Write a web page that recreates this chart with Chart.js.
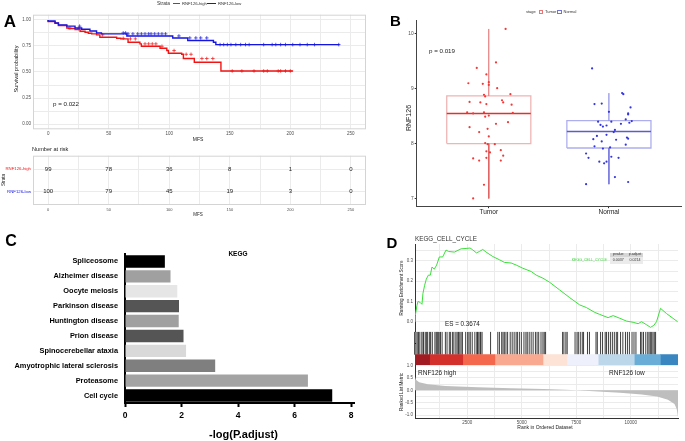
<!DOCTYPE html>
<html>
<head>
<meta charset="utf-8">
<script src="https://cdn.jsdelivr.net/npm/chart.js@4.4.1/dist/chart.umd.min.js"></script>
<style>
html, body { margin: 0; padding: 0; background: #fff; }
#fig { position: relative; width: 685px; height: 441px; overflow: hidden; background: #fff; font-family: "Liberation Sans", Arial, sans-serif; }
#fig canvas { position: absolute; }
.t { position: absolute; white-space: nowrap; line-height: 1; }
.r { position: absolute; }
</style>
</head>
<body>
<div id="fig"></div>
<script>
// ---------- Painel A: curvas de Kaplan-Meier ----------
const highTime = [0, 5.7, 8.5, 15.4, 16.8, 22.2, 26.4, 30.5, 33.2, 36, 40, 42.7, 56.6, 60, 66, 75.8, 77, 92.4, 98, 99.3, 110.3, 111.7, 120.7, 142.7, 149.1, 202.3];
const highSurv = [1, 0.984, 0.968, 0.946, 0.923, 0.917, 0.907, 0.891, 0.881, 0.872, 0.866, 0.856, 0.834, 0.824, 0.818, 0.786, 0.770, 0.747, 0.728, 0.706, 0.68, 0.67, 0.629, 0.594, 0.51, 0.51];
const lowTime = [0, 5.7, 8.5, 15.4, 22.2, 27.7, 34.5, 40, 44, 65, 102.9, 115.3, 136.5, 138.5, 140.6, 240.5];
const lowSurv = [1, 0.99, 0.97, 0.952, 0.94, 0.923, 0.91, 0.894, 0.875, 0.866, 0.846, 0.827, 0.802, 0.785, 0.763, 0.763];
const highCensor = [18, 25, 45, 62, 68, 72, 80, 83, 86, 89, 94, 104, 114, 118, 127, 131, 136, 152, 160, 170, 178, 181, 190, 192, 196, 200];
const lowCensor = [26, 62, 64, 66, 70, 74, 77, 80, 83, 85, 88, 91, 94, 97, 108, 117, 122, 126, 131, 142, 145, 148, 151, 155, 159, 163, 166, 178, 185, 188, 192, 196, 202, 208, 214, 220, 240];

// tabela "Number at risk"
const riskTimes = [0, 50, 100, 150, 200, 250];
const riskHigh = [99, 78, 36, 8, 1, 0];
const riskLow = [100, 79, 45, 19, 3, 0];
const strataNames = ['RNF126-low', 'RNF126-high'];

// ---------- Painel B: boxplot RNF126 ----------
const stageNames = ['Tumor', 'Normal'];
const tumorX = [1.14, 0.90, 1.06, 0.98, 0.83, 0.95, 1.00, 1.00, 1.07, 0.96, 1.18, 0.97, 0.84, 0.93, 1.11, 1.12, 0.98, 1.19, 0.82, 0.87, 0.96, 1.20, 0.97, 1.00, 1.16, 1.06, 0.84, 0.99, 0.92, 1.00, 0.97, 0.99, 1.05, 1.10, 0.98, 1.01, 1.12, 0.87, 0.98, 0.92, 1.10, 0.96, 0.87];
const tumorY = [10.09, 9.38, 9.48, 9.26, 9.10, 9.09, 9.12, 9.07, 9.01, 8.89, 8.90, 8.86, 8.76, 8.75, 8.79, 8.75, 8.72, 8.71, 8.57, 8.55, 8.57, 8.56, 8.49, 8.51, 8.39, 8.36, 8.30, 8.27, 8.21, 8.13, 8.01, 7.99, 7.99, 7.88, 7.86, 7.84, 7.78, 7.73, 7.74, 7.69, 7.69, 7.25, 7.00];
const normalX = [1.86, 2.11, 2.12, 1.88, 1.94, 2.18, 2.00, 2.16, 2.16, 2.14, 1.91, 2.02, 2.19, 2.17, 2.10, 1.93, 1.98, 1.95, 2.05, 2.04, 1.98, 1.90, 2.15, 2.16, 1.87, 1.94, 2.06, 2.14, 1.88, 1.95, 2.01, 1.81, 1.83, 2.02, 2.08, 1.92, 1.98, 1.96, 2.05, 2.16, 1.81];
const normalY = [9.37, 8.92, 8.90, 8.72, 8.73, 8.66, 8.58, 8.55, 8.53, 8.44, 8.40, 8.40, 8.41, 8.38, 8.36, 8.34, 8.33, 8.31, 8.25, 8.21, 8.16, 8.14, 8.11, 8.09, 8.08, 8.04, 8.07, 7.98, 7.95, 7.91, 7.93, 7.82, 7.74, 7.76, 7.74, 7.67, 7.67, 7.64, 7.39, 7.30, 7.26];
const boxLow = [7.00, 7.26];
const boxQ1 = [8.00, 7.92];
const boxMed = [8.55, 8.22];
const boxQ3 = [8.87, 8.42];
const boxHigh = [10.09, 8.92];

// ---------- Painel C: KEGG ----------
const keggTerms = ['Spliceosome', 'Alzheimer disease', 'Oocyte meiosis', 'Parkinson disease', 'Huntington disease', 'Prion disease', 'Spinocerebellar ataxia', 'Amyotrophic lateral sclerosis', 'Proteasome', 'Cell cycle'];
const keggValues = [1.41, 1.61, 1.85, 1.91, 1.90, 2.07, 2.16, 3.19, 6.47, 7.33];
const keggColors = ['#000000', '#a0a0a0', '#e6e6e6', '#555555', '#a0a0a0', '#555555', '#d9d9d9', '#7f7f7f', '#a3a3a3', '#000000'];

// ---------- Painel D: GSEA KEGG_CELL_CYCLE ----------
const esRank = [110, 122, 199, 245, 337, 429, 475, 551, 628, 720, 811, 888, 995, 1102, 1225, 1378, 1531, 1653, 1914, 2220, 2450, 2633, 2756, 2924, 3062, 3215, 3368, 3674, 3981, 4210, 4516, 4746, 5052, 5435, 5665, 5971, 6277, 6736, 7196, 7655, 7961, 8344, 8574, 8956, 9186, 9492, 9798, 10105, 10334, 10487, 10717, 10901, 11054, 11176, 11360, 11636, 12141];
const esScore = [0.0, 0.03, 0.08, 0.10, 0.096, 0.086, 0.14, 0.18, 0.21, 0.23, 0.23, 0.27, 0.26, 0.28, 0.32, 0.32, 0.354, 0.347, 0.344, 0.36, 0.362, 0.364, 0.355, 0.34, 0.347, 0.357, 0.344, 0.322, 0.306, 0.293, 0.29, 0.28, 0.264, 0.248, 0.23, 0.215, 0.195, 0.157, 0.119, 0.083, 0.07, 0.046, 0.036, 0.02, 0.03, 0.017, 0.003, -0.003, -0.01, 0.0, -0.015, -0.028, -0.018, 0.0, 0.066, 0.04, 0.0];
const hitRanks = [92, 153, 214, 276, 337, 429, 490, 521, 612, 658, 704, 796, 842, 919, 1041, 1102, 1148, 1194, 1240, 1301, 1378, 1531, 1608, 1715, 1776, 1868, 1929, 2021, 2082, 2143, 2205, 2266, 2327, 2480, 2572, 2633, 2695, 2786, 2909, 3001, 3031, 3093, 3154, 3184, 3246, 3644, 3981, 4057, 4164, 4226, 4287, 4363, 4440, 4562, 4654, 4746, 4838, 4899, 4991, 5083, 5205, 5297, 5359, 5450, 5542, 5634, 5741, 5818, 5894, 6002, 6093, 6155, 6216, 7012, 7073, 7165, 7226, 7594, 7686, 7747, 7839, 7931, 7992, 8175, 8267, 8574, 8635, 8788, 8880, 9002, 9063, 9155, 9247, 9339, 9431, 9523, 9584, 9722, 9829, 9951, 10043, 10135, 10258, 10350, 10441, 10656, 10717, 10794, 10901, 10993, 11054, 11115, 11176, 11238, 11299, 11360];
const metricRank = [110, 150, 300, 700, 1500, 3000, 4500, 6000, 7000, 7500, 8500, 9500, 10500, 11200, 11700, 12000, 12100, 12160];
const metricValue = [0.55, 0.42, 0.32, 0.24, 0.17, 0.12, 0.085, 0.05, 0.02, 0.0, -0.05, -0.1, -0.17, -0.25, -0.38, -0.55, -0.75, -1.08];
const bandStart = [110, 781, 2298, 3769, 5975, 7064, 8503, 10157, 11352];
const bandEnd = [781, 2298, 3769, 5975, 7064, 8503, 10157, 11352, 12160];
const bandColors = ['#a11c22', '#d32f2b', '#f4694e', '#f9a98f', '#fde2d6', '#eef0fb', '#bcd6ea', '#6aaed7', '#3a86c1'];

const FONTE = '"Liberation Sans", Arial, sans-serif';
const CINZA = '#4d4d4d';
const GRADE = '#ebebeb';

Chart.defaults.animation = false;
Chart.defaults.responsive = false;
Chart.defaults.events = [];
Chart.defaults.font.family = FONTE;
Chart.defaults.plugins.legend.display = false;
Chart.defaults.plugins.tooltip.enabled = false;

// moldura do painel (estilo ggplot)
Chart.register({
    id: 'frame',
    afterDraw(chart, args, opts) {
        if (!opts.color) return;
        const a = chart.chartArea, ctx = chart.ctx;
        ctx.save();
        ctx.strokeStyle = opts.color;
        ctx.lineWidth = 1;
        ctx.strokeRect(a.left + 0.5, a.top + 0.5, a.width - 1, a.height - 1);
        ctx.restore();
    }
});

const fig = document.getElementById('fig');

function novoCanvas(x, y, w, h) {
    const c = document.createElement('canvas');
    c.width = w; c.height = h;
    c.style.left = x + 'px'; c.style.top = y + 'px';
    c.style.width = w + 'px'; c.style.height = h + 'px';
    fig.appendChild(c);
    return c;
}

function texto(str, x, y, o = {}) {
    const d = document.createElement('div');
    d.className = 't';
    d.textContent = str;
    const tx = o.anchor === 'center' ? '-50%' : o.anchor === 'right' ? '-100%' : '0';
    d.style.left = x + 'px';
    d.style.top = y + 'px';
    d.style.fontSize = (o.size || 6) + 'px';
    d.style.color = o.color || '#222';
    if (o.bold) d.style.fontWeight = 'bold';
    d.style.transform = `translate(${tx},-50%)` + (o.rotate ? ` rotate(${o.rotate}deg)` : '');
    fig.appendChild(d);
    return d;
}

function caixa(x, y, w, h, css) {
    const d = document.createElement('div');
    d.className = 'r';
    d.style.cssText += `left:${x}px;top:${y}px;width:${w}px;height:${h}px;` + css;
    fig.appendChild(d);
    return d;
}

const fitX = h => s => { s.height = h; s.paddingLeft = 0; s.paddingRight = 0; };
const fitY = w => s => { s.width = w; s.paddingTop = 0; s.paddingBottom = 0; };
const fixarTicks = vals => s => { s.ticks = vals.map(v => ({ value: v })); };
const faixa = (a, b, passo) => { const r = []; for (let v = a; v <= b + 1e-9; v += passo) r.push(Math.round(v * 1000) / 1000); return r; };

function survAt(times, surv, t) {
    let s = surv[0];
    times.forEach((tt, i) => { if (tt <= t) s = surv[i]; });
    return s;
}

// ===== A: sobrevivência =====
const kmTicksX = faixa(0, 250, 25);
new Chart(novoCanvas(0, 0, 372, 145), {
    type: 'scatter',
    data: {
        datasets: [
            { data: lowTime.map((t, i) => ({ x: t, y: lowSurv[i] })), showLine: true, stepped: 'after', borderColor: '#1515e0', borderWidth: 1.4, pointRadius: 0 },
            { data: highTime.map((t, i) => ({ x: t, y: highSurv[i] })), showLine: true, stepped: 'after', borderColor: '#f01414', borderWidth: 1.4, pointRadius: 0 },
            { data: lowCensor.map(t => ({ x: t, y: survAt(lowTime, lowSurv, t) })), pointStyle: 'cross', pointRadius: 1.8, borderColor: '#1515e0', borderWidth: 0.7 },
            { data: highCensor.map(t => ({ x: t, y: survAt(highTime, highSurv, t) })), pointStyle: 'cross', pointRadius: 1.8, borderColor: '#f01414', borderWidth: 0.7 }
        ]
    },
    options: {
        layout: { padding: { top: 14.7, right: 6, left: 0, bottom: 0 } },
        plugins: { frame: { color: '#d4d4d4' } },
        scales: {
            x: {
                type: 'linear', min: -12.5, max: 262.5,
                afterBuildTicks: fixarTicks(kmTicksX), afterFit: fitX(15.7),
                grid: { color: GRADE, drawTicks: false }, border: { display: false },
                ticks: { autoSkip: false, maxRotation: 0, padding: 2, color: CINZA, font: { size: 4.5 }, callback: v => (v % 50 === 0 ? String(v) : '') }
            },
            y: {
                min: -0.05, max: 1.05,
                afterBuildTicks: fixarTicks(faixa(0, 1, 0.125)), afterFit: fitY(33),
                grid: { color: GRADE, drawTicks: false }, border: { display: false },
                ticks: { autoSkip: false, padding: 2, color: CINZA, font: { size: 4.5 }, callback: v => (Math.round(v * 1000) % 250 === 0 ? v.toFixed(2) : '') }
            }
        }
    }
});

// ===== A: tabela de risco =====
new Chart(novoCanvas(0, 150, 372, 70), {
    type: 'scatter',
    data: { datasets: [{ data: [] }] },
    options: {
        layout: { padding: { top: 5.7, right: 6, left: 0, bottom: 0 } },
        plugins: { frame: { color: '#d4d4d4' } },
        scales: {
            x: {
                type: 'linear', min: -12.5, max: 262.5,
                afterBuildTicks: fixarTicks(kmTicksX), afterFit: fitX(15),
                grid: { color: GRADE, drawTicks: false }, border: { display: false },
                ticks: { autoSkip: false, maxRotation: 0, padding: 2, color: CINZA, font: { size: 4 }, callback: v => (v % 50 === 0 ? String(v) : '') }
            },
            y: {
                min: 0.4, max: 2.6,
                afterBuildTicks: fixarTicks([1, 2]), afterFit: fitY(33),
                grid: { color: GRADE, drawTicks: false }, border: { display: false },
                ticks: { autoSkip: false, padding: 2, font: { size: 4.3 }, color: c => (c.tick && c.tick.value === 2 ? '#f01414' : '#1515e0'), callback: v => strataNames[v - 1] }
            }
        }
    },
    plugins: [{
        id: 'riskText',
        afterDatasetsDraw(chart) {
            const { ctx, scales: { x, y } } = chart;
            ctx.save();
            ctx.font = '6px ' + FONTE;
            ctx.fillStyle = '#222';
            ctx.textAlign = 'center';
            ctx.textBaseline = 'middle';
            riskTimes.forEach((t, i) => {
                ctx.fillText(String(riskHigh[i]), x.getPixelForValue(t), y.getPixelForValue(2));
                ctx.fillText(String(riskLow[i]), x.getPixelForValue(t), y.getPixelForValue(1));
            });
            ctx.restore();
        }
    }]
});

// ===== B: boxplot =====
const meia = 0.35;
function retangulo(i) {
    const c = i + 1;
    return [
        { x: c - meia, y: boxQ1[i] }, { x: c + meia, y: boxQ1[i] }, { x: c + meia, y: boxQ3[i] },
        { x: c - meia, y: boxQ3[i] }, { x: c - meia, y: boxQ1[i] }
    ];
}
const linha = (pts, cor, w) => ({ data: pts, showLine: true, borderColor: cor, borderWidth: w, pointRadius: 0 });
const corBorda = ['#f0b4b4', '#aeaeee'];
const corLinha = ['#e06262', '#7676de'];
const corMed = ['#e23030', '#5c5cd0'];
const dsB = [
    { data: tumorX.map((x, i) => ({ x, y: tumorY[i] })), pointRadius: 1.1, backgroundColor: '#f03a3a', borderWidth: 0 },
    { data: normalX.map((x, i) => ({ x, y: normalY[i] })), pointRadius: 1.1, backgroundColor: '#3434e2', borderWidth: 0 }
];
stageNames.forEach((nome, i) => {
    const c = i + 1;
    dsB.push(linha([{ x: c - meia, y: boxMed[i] }, { x: c + meia, y: boxMed[i] }], corMed[i], 1.4));
    dsB.push(linha([{ x: c, y: boxQ3[i] }, { x: c, y: boxHigh[i] }], corLinha[i], 1));
    dsB.push(linha([{ x: c, y: boxQ1[i] }, { x: c, y: boxLow[i] }], corLinha[i], 1));
    dsB.push(linha(retangulo(i), corBorda[i], 1.3));
});
new Chart(novoCanvas(380, 10, 305, 215), {
    type: 'scatter',
    data: { datasets: dsB },
    options: {
        layout: { padding: { top: 10.7, right: 2, left: 0, bottom: 0 } },
        scales: {
            x: {
                type: 'linear', min: 0.4, max: 2.6,
                afterBuildTicks: fixarTicks([1, 2]), afterFit: fitX(18.3),
                grid: { drawOnChartArea: false, tickLength: 1.5, tickColor: '#333' },
                border: { color: '#444', width: 1 },
                ticks: { autoSkip: false, maxRotation: 0, padding: 0, color: '#222', font: { size: 6.5 }, callback: v => stageNames[v - 1] }
            },
            y: {
                min: 6.85, max: 10.24,
                afterBuildTicks: fixarTicks([7, 8, 9, 10]), afterFit: fitY(36.7),
                grid: { drawOnChartArea: false, tickLength: 2, tickColor: '#333' },
                border: { color: '#444', width: 1 },
                ticks: { autoSkip: false, padding: 1, color: CINZA, font: { size: 4.8 }, callback: v => String(v) }
            }
        }
    }
});

// ===== C: barras KEGG =====
new Chart(novoCanvas(0, 245, 360, 196), {
    type: 'bar',
    data: {
        labels: keggTerms,
        datasets: [{ data: keggValues, backgroundColor: keggColors, barPercentage: 0.83, categoryPercentage: 1 }]
    },
    options: {
        indexAxis: 'y',
        layout: { padding: { top: 9, right: 6, left: 0, bottom: 0 } },
        scales: {
            x: {
                min: 0, max: 8.1,
                afterBuildTicks: fixarTicks([0, 2, 4, 6, 8]), afterFit: fitX(38),
                grid: { drawOnChartArea: false, tickLength: 4, tickWidth: 2, tickColor: '#000' },
                border: { color: '#000', width: 2 },
                ticks: { padding: 4, color: '#000', font: { size: 8.5, weight: 'bold' } }
            },
            y: {
                afterFit: fitY(125),
                grid: { drawOnChartArea: false, drawTicks: false },
                border: { color: '#000', width: 2 },
                ticks: { padding: 7, color: '#000', font: { size: 7.4, weight: 'bold' } }
            }
        }
    }
});

// ===== D: GSEA =====
const gseaMin = 110, gseaMax = 12160;
const gseaGradeX = faixa(1250, 11250, 1250);

// curva de enrichment score
new Chart(novoCanvas(380, 234, 305, 100), {
    type: 'scatter',
    data: { datasets: [{ data: esRank.map((r, i) => ({ x: r, y: esScore[i] })), showLine: true, borderColor: '#3ae03a', borderWidth: 1, pointRadius: 0 }] },
    options: {
        layout: { padding: { top: 10, right: 7, left: 0, bottom: 0 } },
        scales: {
            x: {
                type: 'linear', min: gseaMin, max: gseaMax,
                afterBuildTicks: fixarTicks(gseaGradeX), afterFit: fitX(2.6),
                grid: { color: GRADE, drawTicks: false }, border: { display: false },
                ticks: { display: false }
            },
            y: {
                min: -0.048, max: 0.384,
                afterBuildTicks: fixarTicks(faixa(0, 0.35, 0.05)), afterFit: fitY(35),
                grid: { color: GRADE, drawTicks: false }, border: { color: '#333', width: 1 },
                ticks: { autoSkip: false, padding: 2, color: CINZA, font: { size: 4.5 }, callback: v => (Math.round(v * 100) % 10 === 0 ? v.toFixed(1) : '') }
            }
        }
    }
});

// posições dos genes do conjunto (traços verticais)
new Chart(novoCanvas(380, 331, 305, 24), {
    type: 'scatter',
    data: {
        datasets: [{
            data: hitRanks.map(r => ({ x: r, y: 0.5 })),
            pointStyle: 'line', rotation: 90, borderColor: 'rgba(0,0,0,0.85)', borderWidth: 0.9,
            pointRadius: 11.4
        }]
    },
    options: {
        clip: false,
        layout: { padding: { top: 0.4, right: 7, left: 0, bottom: 0.7 } },
        scales: {
            x: { type: 'linear', min: gseaMin, max: gseaMax, display: false },
            y: {
                min: 0, max: 1, afterFit: fitY(35),
                grid: { drawOnChartArea: false, drawTicks: false }, border: { color: '#333', width: 1 },
                ticks: { display: false }
            }
        }
    }
});

// barra de cores do ranking
new Chart(novoCanvas(380, 354, 305, 12), {
    type: 'bar',
    data: {
        labels: ['rank'],
        datasets: bandStart.map((s, i) => ({ data: [[s, bandEnd[i]]], backgroundColor: bandColors[i], grouped: false, barPercentage: 1, categoryPercentage: 1 }))
    },
    options: {
        indexAxis: 'y',
        layout: { padding: { top: 0.3, right: 7, left: 35, bottom: 1 } },
        scales: {
            x: { type: 'linear', min: gseaMin, max: gseaMax, display: false },
            y: { display: false }
        }
    }
});

// ranked list metric
new Chart(novoCanvas(380, 360, 305, 81), {
    type: 'scatter',
    data: { datasets: [{ data: metricRank.map((r, i) => ({ x: r, y: metricValue[i] })), showLine: true, fill: 'origin', backgroundColor: '#bebebe', borderWidth: 0, pointRadius: 0 }] },
    options: {
        layout: { padding: { top: 5, right: 7, left: 0, bottom: 0 } },
        scales: {
            x: {
                type: 'linear', min: gseaMin, max: gseaMax,
                afterBuildTicks: fixarTicks(gseaGradeX), afterFit: fitX(22.7),
                grid: { color: GRADE, drawTicks: false }, border: { color: '#333', width: 1 },
                ticks: { autoSkip: false, maxRotation: 0, padding: 1.5, color: CINZA, font: { size: 4.5 }, callback: v => (v % 2500 === 0 ? String(v) : '') }
            },
            y: {
                min: -1.13, max: 1.02,
                afterBuildTicks: fixarTicks(faixa(-1, 1, 0.25)), afterFit: fitY(35),
                grid: { color: GRADE, drawTicks: false }, border: { color: '#333', width: 1 },
                ticks: { autoSkip: false, padding: 2, color: CINZA, font: { size: 4.5 }, callback: v => (Math.round(v * 100) % 50 === 0 ? v.toFixed(1) : '') }
            }
        }
    }
});

// ---------- textos ----------
// A
texto('A', 10, 21, { anchor: 'center', size: 17, bold: true, color: '#000' });
texto('Strata', 157, 3.5, { size: 4.8, color: '#333' });
caixa(173, 2.9, 7, 1.2, 'background:#f01414');
texto('RNF126-high', 182, 3.5, { size: 4.2, color: '#333' });
caixa(207, 2.9, 9, 1.2, 'background:#1515e0');
texto('RNF126-low', 218, 3.5, { size: 4.2, color: '#333' });
texto('Survival probability', 16.5, 69, { anchor: 'center', rotate: -90, size: 5.6 });
texto('p = 0.022', 53, 104.3, { size: 6.2 });
texto('MFS', 198, 138.5, { anchor: 'center', size: 5 });
texto('Number at risk', 32, 149.5, { size: 5.6 });
texto('Strata', 3.5, 180, { anchor: 'center', rotate: -90, size: 4.5 });
texto('MFS', 198, 214.5, { anchor: 'center', size: 4.5 });

// B
texto('B', 395.5, 20, { anchor: 'center', size: 15, bold: true, color: '#000' });
texto('stage', 526, 12, { size: 4, color: '#333' });
caixa(538.5, 9.7, 4.5, 4.5, 'border:0.8px solid #e87878;box-sizing:border-box;');
texto('Tumor', 545, 12, { size: 4, color: '#333' });
caixa(557, 9.7, 4.5, 4.5, 'border:0.8px solid #7272dc;box-sizing:border-box;');
texto('Normal', 563.5, 12, { size: 4, color: '#333' });
texto('p = 0.019', 429, 51, { size: 6.2 });
texto('RNF126', 407.5, 118, { anchor: 'center', rotate: -90, size: 7 });

// C
texto('C', 11, 241, { anchor: 'center', size: 16, bold: true, color: '#000' });
texto('KEGG', 238, 254, { anchor: 'center', size: 6.5, bold: true, color: '#000' });
texto('-log(P.adjust)', 243.5, 434, { anchor: 'center', size: 11, bold: true, color: '#000' });

// D
texto('D', 392, 241.5, { anchor: 'center', size: 15, bold: true, color: '#000' });
texto('KEGG_CELL_CYCLE', 415, 239, { size: 6.3, color: '#333' });
texto('Running Enrichment Score', 401.5, 288, { anchor: 'center', rotate: -90, size: 4.6 });
texto('ES = 0.3674', 445, 323.7, { size: 6.3 });
texto('RNF126 high', 418, 372.7, { size: 6.5 });
texto('RNF126 low', 609, 372.7, { size: 6.5 });
texto('Ranked List Metric', 401.5, 392, { anchor: 'center', rotate: -90, size: 4.6 });
texto('Rank in Ordered Dataset', 545, 427, { anchor: 'center', size: 5 });
caixa(610, 253, 16.7, 4.3, 'background:#d6d6d6');
caixa(626.7, 253, 16.6, 4.3, 'background:#d6d6d6');
caixa(610, 257.3, 16.7, 7, 'background:#ebebeb');
caixa(626.7, 257.3, 16.6, 7, 'background:#ebebeb');
texto('pvalue', 618.3, 255.2, { anchor: 'center', size: 3.6, color: '#333' });
texto('p.adjust', 635, 255.2, { anchor: 'center', size: 3.6, color: '#333' });
texto('0.0037', 618.3, 260.8, { anchor: 'center', size: 3.6, color: '#333' });
texto('0.0214', 635, 260.8, { anchor: 'center', size: 3.6, color: '#333' });
texto('KEGG_CELL_CYCLE', 607, 260.8, { anchor: 'right', size: 3.6, color: '#3ad83a' });
</script>
</body>
</html>
